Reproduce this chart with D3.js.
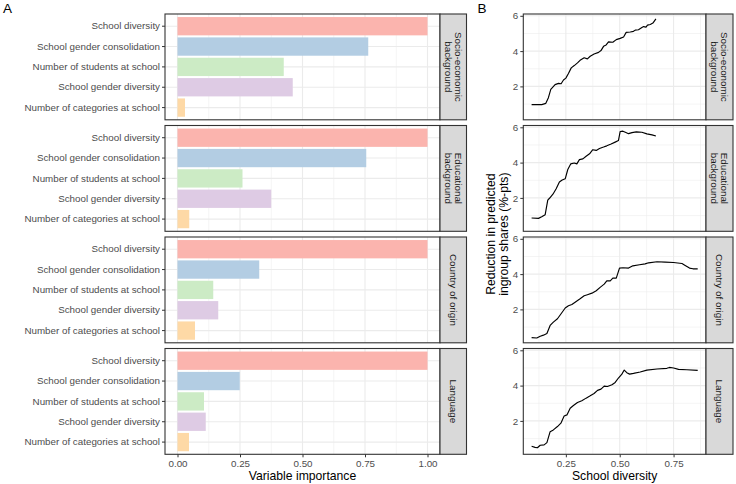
<!DOCTYPE html>
<html><head><meta charset="utf-8">
<script src="https://cdn.jsdelivr.net/npm/d3@7"></script>
<style>
html,body{margin:0;padding:0;background:#fff;}
text{font-family:"Liberation Sans",Arial,Helvetica,sans-serif;}
</style></head>
<body>
<svg id="chart" width="736" height="484"></svg>
<script>
// ---------------- DATA ----------------
const facets = ["Socio-economic\nbackground", "Educational\nbackground", "Country of origin", "Language"];
const predictors = ["School diversity", "School gender consolidation", "Number of students at school", "School gender diversity", "Number of categories at school"];
const barColors = ["#FBB4AE", "#B3CDE3", "#CCEBC5", "#DECBE4", "#FED9A6"];

const importanceSES = [1.00, 0.763, 0.425, 0.461, 0.030];
const importanceEdu = [1.00, 0.755, 0.260, 0.375, 0.047];
const importanceCountry = [1.00, 0.327, 0.143, 0.163, 0.070];
const importanceLang = [1.00, 0.249, 0.106, 0.113, 0.046];

const xTicksA = [0, 0.25, 0.5, 0.75, 1];
const xTickLabelsA = ["0.00", "0.25", "0.50", "0.75", "1.00"];
const xTicksB = [0.25, 0.5, 0.75];
const xTickLabelsB = ["0.25", "0.50", "0.75"];
const yTicksB = [2, 4, 6];

const pdpX_SES = [0.091,0.138,0.157,0.169,0.180,0.200,0.216,0.228,0.239,0.250,0.262,0.275,0.289,0.304,0.316,0.335,0.350,0.363,0.381,0.402,0.413,0.425,0.437,0.448,0.468,0.484,0.502,0.518,0.530,0.549,0.564,0.572,0.587,0.603,0.611,0.622,0.629,0.642,0.654,0.668];
const pdpY_SES = [0.97,0.97,1.04,1.36,1.83,2.10,2.17,2.15,2.36,2.47,2.73,3.05,3.18,3.33,3.48,3.62,3.56,3.71,3.84,3.93,4.03,4.27,4.35,4.52,4.50,4.65,4.72,4.80,5.06,5.08,5.12,5.19,5.21,5.34,5.39,5.36,5.47,5.51,5.59,5.83];

const pdpX_Edu = [0.091,0.123,0.138,0.154,0.166,0.174,0.190,0.205,0.220,0.233,0.247,0.259,0.273,0.289,0.301,0.313,0.329,0.344,0.360,0.375,0.391,0.406,0.425,0.440,0.460,0.479,0.494,0.502,0.515,0.526,0.541,0.557,0.577,0.603,0.626,0.650,0.668];
const pdpY_Edu = [0.86,0.84,0.93,1.05,1.87,1.98,2.21,2.52,2.90,3.01,3.08,3.61,3.93,3.98,3.93,4.17,4.21,4.36,4.50,4.73,4.69,4.80,4.88,4.95,5.05,5.16,5.25,5.76,5.78,5.72,5.64,5.70,5.74,5.72,5.63,5.57,5.51];

const pdpX_Country = [0.091,0.115,0.131,0.146,0.162,0.177,0.192,0.211,0.227,0.247,0.262,0.278,0.298,0.316,0.335,0.350,0.371,0.391,0.409,0.428,0.440,0.456,0.468,0.484,0.499,0.515,0.541,0.561,0.592,0.618,0.634,0.673,0.711,0.750,0.789,0.804,0.824,0.840,0.862];
const pdpY_Country = [0.40,0.38,0.48,0.54,0.63,1.09,1.28,1.47,1.74,2.08,2.21,2.28,2.45,2.60,2.77,2.83,2.92,3.06,3.25,3.43,3.62,3.62,3.77,3.77,4.34,4.36,4.34,4.47,4.53,4.58,4.64,4.70,4.68,4.66,4.60,4.49,4.34,4.30,4.30];

const pdpX_Lang = [0.091,0.107,0.118,0.131,0.149,0.162,0.177,0.192,0.211,0.227,0.242,0.255,0.270,0.285,0.304,0.324,0.344,0.363,0.381,0.397,0.413,0.428,0.443,0.464,0.479,0.494,0.510,0.521,0.533,0.546,0.564,0.595,0.626,0.673,0.719,0.731,0.750,0.773,0.812,0.862];
const pdpY_Lang = [0.56,0.50,0.48,0.62,0.64,0.77,1.39,1.49,1.68,1.87,2.28,2.34,2.72,2.87,3.04,3.14,3.29,3.42,3.55,3.73,3.80,3.97,3.95,4.05,4.18,4.43,4.65,4.88,4.73,4.65,4.69,4.77,4.88,4.94,4.98,5.03,5.00,4.92,4.90,4.86];

const importances = [importanceSES, importanceEdu, importanceCountry, importanceLang];
const pdpXs = [pdpX_SES, pdpX_Edu, pdpX_Country, pdpX_Lang];
const pdpYs = [pdpY_SES, pdpY_Edu, pdpY_Country, pdpY_Lang];

// ---------------- LAYOUT ----------------
const svg = d3.select("#chart");
const top0 = 14, panelH = 105.8, gap = 5.7;
const A = {left:165, right:440, stripR:466.5};
const B = {left:523.3, right:706, stripR:733};
const grey20 = "#333333", grey30 = "#4D4D4D", grey92 = "#EBEBEB", grey85 = "#D9D9D9";
const axisFont = 9.8, titleFont = 12.2;

function expand(ext, m){ const r = ext[1]-ext[0]; return [ext[0]-m*r, ext[1]+m*r]; }

const xA = d3.scaleLinear().domain(expand([0,1],0.05)).range([A.left, A.right]);
const allX = pdpXs.flat(), allY = pdpYs.flat();
const xB = d3.scaleLinear().domain(expand(d3.extent(allX),0.05)).range([B.left, B.right]);
const yDomB = expand(d3.extent(allY),0.05);

function styleAxis(g){
  g.select(".domain").remove();
  g.selectAll(".tick line").attr("stroke", grey20).attr("stroke-width", 1);
  g.selectAll(".tick text").attr("fill", grey30).style("font-size", axisFont+"px")
    .style("font-family", '"Liberation Sans",Arial,sans-serif');
}

function drawStrip(x0, x1, y0, label){
  svg.append("rect").attr("x", x0).attr("y", y0).attr("width", x1-x0).attr("height", panelH)
    .attr("fill", grey85).attr("stroke", grey20).attr("stroke-width", 1.1);
  const lines = label.split("\n");
  const g = svg.append("g").attr("transform", `translate(${(x0+x1)/2},${y0+panelH/2}) rotate(90)`);
  lines.forEach((l,i)=>{
    g.append("text").attr("x",0).attr("y", (i-(lines.length-1)/2)*10.2)
      .attr("text-anchor","middle").attr("dominant-baseline","central")
      .attr("fill","#1A1A1A").style("font-size", axisFont+"px").text(l);
  });
}

facets.forEach((fac, fi) => {
  const y0 = top0 + fi*(panelH+gap), y1 = y0 + panelH;

  // ---------- Panel A ----------
  const yA = d3.scaleBand().domain(predictors).range([y0, y1]).paddingInner(0.1).paddingOuter(0.15);
  const gA = svg.append("g");
  // minor x grid
  [0.125,0.375,0.625,0.875].forEach(v=>{
    gA.append("line").attr("x1",xA(v)).attr("x2",xA(v)).attr("y1",y0).attr("y2",y1)
      .attr("stroke",grey92).attr("stroke-width",0.55);
  });
  xTicksA.forEach(v=>{
    gA.append("line").attr("x1",xA(v)).attr("x2",xA(v)).attr("y1",y0).attr("y2",y1)
      .attr("stroke",grey92).attr("stroke-width",1.1);
  });
  predictors.forEach(p=>{
    const c = yA(p)+yA.bandwidth()/2;
    gA.append("line").attr("x1",A.left).attr("x2",A.right).attr("y1",c).attr("y2",c)
      .attr("stroke",grey92).attr("stroke-width",1.1);
  });
  gA.selectAll("rect.bar").data(predictors).enter().append("rect")
    .attr("x", xA(0)).attr("y", d=>yA(d))
    .attr("width", (d,i)=>xA(importances[fi][i])-xA(0))
    .attr("height", yA.bandwidth())
    .attr("fill", (d,i)=>barColors[i]);
  svg.append("rect").attr("x",A.left).attr("y",y0).attr("width",A.right-A.left).attr("height",panelH)
    .attr("fill","none").attr("stroke",grey20).attr("stroke-width",1.1);
  const axL = svg.append("g").attr("transform",`translate(${A.left},0)`)
    .call(d3.axisLeft(yA).tickSize(3).tickPadding(2));
  styleAxis(axL);
  drawStrip(A.right, A.stripR, y0, fac);

  // ---------- Panel B ----------
  const yB = d3.scaleLinear().domain(yDomB).range([y1, y0]);
  const gB = svg.append("g");
  [0.125,0.375,0.625,0.875].forEach(v=>{
    gB.append("line").attr("x1",xB(v)).attr("x2",xB(v)).attr("y1",y0).attr("y2",y1)
      .attr("stroke",grey92).attr("stroke-width",0.55);
  });
  [1,3,5].forEach(v=>{
    gB.append("line").attr("x1",B.left).attr("x2",B.right).attr("y1",yB(v)).attr("y2",yB(v))
      .attr("stroke",grey92).attr("stroke-width",0.55);
  });
  xTicksB.forEach(v=>{
    gB.append("line").attr("x1",xB(v)).attr("x2",xB(v)).attr("y1",y0).attr("y2",y1)
      .attr("stroke",grey92).attr("stroke-width",1.1);
  });
  yTicksB.forEach(v=>{
    gB.append("line").attr("x1",B.left).attr("x2",B.right).attr("y1",yB(v)).attr("y2",yB(v))
      .attr("stroke",grey92).attr("stroke-width",1.1);
  });
  const pts = pdpXs[fi].map((x,i)=>[x, pdpYs[fi][i]]);
  gB.append("path").datum(pts)
    .attr("d", d3.line().x(d=>xB(d[0])).y(d=>yB(d[1])))
    .attr("fill","none").attr("stroke","#000").attr("stroke-width",1.15).attr("stroke-linejoin","round");
  svg.append("rect").attr("x",B.left).attr("y",y0).attr("width",B.right-B.left).attr("height",panelH)
    .attr("fill","none").attr("stroke",grey20).attr("stroke-width",1.1);
  const axBL = svg.append("g").attr("transform",`translate(${B.left},0)`)
    .call(d3.axisLeft(yB).tickValues(yTicksB).tickFormat(d3.format("d")).tickSize(3).tickPadding(2));
  styleAxis(axBL);
  drawStrip(B.right, B.stripR, y0, fac);

  if (fi === facets.length-1) {
    const axAB = svg.append("g").attr("transform",`translate(0,${y1})`)
      .call(d3.axisBottom(xA).tickValues(xTicksA).tickFormat((d,i)=>xTickLabelsA[i]).tickSize(3).tickPadding(2.5));
    styleAxis(axAB);
    const axBB = svg.append("g").attr("transform",`translate(0,${y1})`)
      .call(d3.axisBottom(xB).tickValues(xTicksB).tickFormat((d,i)=>xTickLabelsB[i]).tickSize(3).tickPadding(2.5));
    styleAxis(axBB);
  }
});

// titles
svg.append("text").attr("x",(A.left+A.right)/2).attr("y",479.5).attr("text-anchor","middle")
  .style("font-size",titleFont+"px").attr("fill","#000").text("Variable importance");
svg.append("text").attr("x",(B.left+B.right)/2).attr("y",479.5).attr("text-anchor","middle")
  .style("font-size",titleFont+"px").attr("fill","#000").text("School diversity");
const yt = svg.append("g").attr("transform",`translate(497.5,${top0 + (4*panelH+3*gap)/2}) rotate(-90)`);
["Reduction in predicted","ingroup shares (%-pts)"].forEach((l,i)=>{
  yt.append("text").attr("x",0).attr("y",(i-0.5)*13).attr("text-anchor","middle")
    .attr("dominant-baseline","central").style("font-size",titleFont+"px").attr("fill","#000").text(l);
});
svg.append("text").attr("x",3).attr("y",12.7).style("font-size","13.5px").attr("fill","#000").text("A");
svg.append("text").attr("x",477.5).attr("y",12.7).style("font-size","13.5px").attr("fill","#000").text("B");
</script>
</body></html>
